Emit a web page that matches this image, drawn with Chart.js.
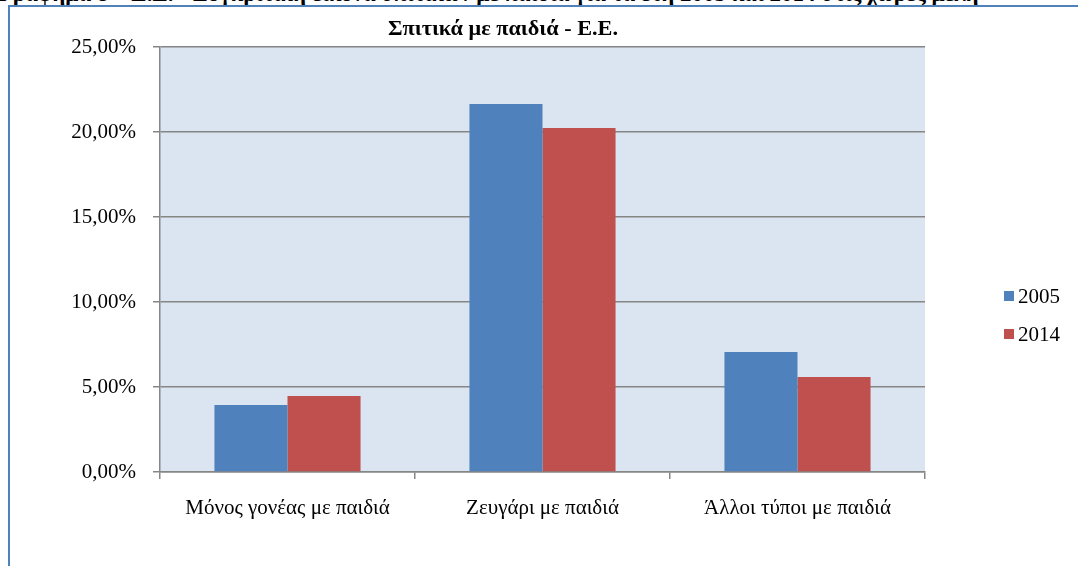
<!DOCTYPE html>
<html>
<head>
<meta charset="utf-8">
<script src="https://cdn.jsdelivr.net/npm/chart.js@4/dist/chart.umd.min.js"></script>
<style>
  html, body { margin: 0; padding: 0; background: #fff; }
  body { width: 1078px; height: 566px; position: relative; overflow: hidden; font-family: "Liberation Serif", "Times New Roman", serif; }
  #caption { position: absolute; left: -2px; top: -18px; white-space: nowrap; font-weight: bold; font-size: 23px; line-height: 24px; color: #000; }
  #frame { position: absolute; left: 8px; top: 5px; width: 1070px; height: 561px; border-left: 2px solid #4f81bd; border-top: 2px solid #4f81bd; box-sizing: border-box; }
  #title { position: absolute; left: 0; width: 1006px; top: 15px; text-align: center; font-weight: bold; font-size: 21px; line-height: 26px; color: #000; transform-origin: 503px 13px; transform: scaleX(1.06); }
  #wrap { position: absolute; left: 0; top: 0; width: 1078px; height: 566px; }
  #legend { position: absolute; left: 1004px; top: 285px; font-size: 21px; color: #000; }
  .li { display: flex; align-items: center; height: 22px; margin-bottom: 16px; }
  .sw { width: 10px; height: 10px; margin-right: 4px; }
</style>
</head>
<body>
<div id="caption">Γράφημα 8 – Ε.Ε. - Συγκριτική εικόνα σπιτικών με παιδιά για τα έτη 2005 και 2014 στις χώρες μέλη</div>
<div id="frame"></div>
<div id="wrap"><canvas id="c" width="1078" height="566"></canvas></div>
<div id="title"></div>
<div id="legend"></div>
<script>
const chartTitle = "Σπιτικά με παιδιά - Ε.Ε.";
const categories = ["Μόνος γονέας με παιδιά", "Ζευγάρι με παιδιά", "Άλλοι τύποι με παιδιά"];
const seriesNames = ["2005", "2014"];
const values2005 = [3.94, 21.65, 7.06];
const values2014 = [4.47, 20.24, 5.59];
const seriesColors = ["#4f81bd", "#c0504d"];
const yTicks = [0, 5, 10, 15, 20, 25];

document.getElementById('title').textContent = chartTitle;
const legend = document.getElementById('legend');
seriesNames.forEach((n, i) => {
  const d = document.createElement('div'); d.className = 'li';
  const s = document.createElement('div'); s.className = 'sw'; s.style.background = seriesColors[i];
  const t = document.createElement('span'); t.textContent = n;
  d.appendChild(s); d.appendChild(t); legend.appendChild(d);
});

const bgPlugin = {
  id: 'bg',
  beforeDraw(chart) {
    const a = chart.chartArea, ctx = chart.ctx;
    ctx.save(); ctx.fillStyle = '#dbe5f1';
    ctx.fillRect(a.left, a.top, a.right - a.left, a.bottom - a.top);
    ctx.restore();
  }
};

new Chart(document.getElementById('c'), {
  type: 'bar',
  data: {
    labels: categories,
    datasets: [
      { label: seriesNames[0], data: values2005, backgroundColor: seriesColors[0], borderWidth: 0 },
      { label: seriesNames[1], data: values2014, backgroundColor: seriesColors[1], borderWidth: 0 }
    ]
  },
  options: {
    responsive: false,
    animation: false,
    devicePixelRatio: 1,
    categoryPercentage: 0.573,
    barPercentage: 1,
    layout: { padding: { top: 47, left: 0, right: 153, bottom: 0 } },
    plugins: { legend: { display: false }, title: { display: false }, tooltip: { enabled: false } },
    scales: {
      x: {
        afterFit(s) { s.height = 94; },
        grid: { drawOnChartArea: false, drawTicks: true, tickLength: 7, color: '#868686', lineWidth: 1.5, offset: true },
        border: { color: '#868686', width: 1.5 },
        ticks: { color: '#000', padding: 17, font: { family: 'Liberation Serif', size: 21 } }
      },
      y: {
        min: 0, max: 25,
        afterFit(s) { s.width = 160; },
        afterBuildTicks(s) { s.ticks = yTicks.map(v => ({ value: v })); },
        grid: { color: '#868686', lineWidth: 1.5, drawTicks: true, tickLength: 7 },
        border: { color: '#868686', width: 1.5 },
        ticks: {
          color: '#000', padding: 17, font: { family: 'Liberation Serif', size: 21 },
          callback: v => v.toFixed(2).replace('.', ',') + '%'
        }
      }
    }
  },
  plugins: [bgPlugin]
});
</script>
</body>
</html>
